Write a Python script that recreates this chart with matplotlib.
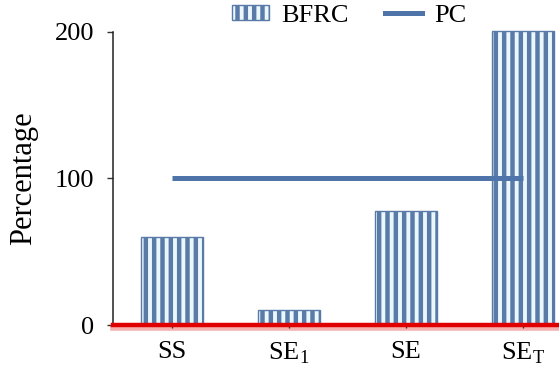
import matplotlib.pyplot as plt
import matplotlib.transforms as mtransforms
from matplotlib.lines import Line2D
from matplotlib.patches import Patch

plt.rcParams["font.family"] = ["Liberation Serif", "DejaVu Serif"]
plt.rcParams["mathtext.fontset"] = "custom"
plt.rcParams["mathtext.rm"] = "Liberation Serif"
plt.rcParams["hatch.linewidth"] = 3.2

# data
categories = ["SS", r"SE$_\mathrm{1}$", "SE", r"SE$_\mathrm{T}$"]
bfrc = [60, 10, 78, 201]
pc = [100, 100, 100, 100]

bar_dark = "#5a7aa8"
bar_light = "#eaf8fd"
line_blue = "#4f74aa"

fig = plt.figure(figsize=(5.59, 3.70), dpi=100)
ax = fig.add_axes([0.2021, 0.1216, 0.798, 0.792])

x = list(range(len(categories)))
ax.bar(x, bfrc, width=0.53, color=bar_light, edgecolor=bar_dark,
       hatch="||", linewidth=1.0, clip_on=False, zorder=2)
ax.plot(x, pc, color=line_blue, linewidth=3.6, solid_capstyle="butt", zorder=3)

# red base line with a soft shadow below it
shadow = mtransforms.offset_copy(ax.transData, fig=fig, x=0, y=-2.5, units="points")
ax.plot([-0.5, 3.4], [0, 0], color="#f6b0b0", linewidth=4, transform=shadow,
        clip_on=False, zorder=1)
ax.axhline(0, color="#e00000", linewidth=3.2, zorder=4, clip_on=False)

ax.set_xlim(-0.504, 3.31)
ax.set_ylim(0, 200)
ax.set_yticks([0, 100, 200])
ax.set_xticks(x)
ax.set_xticklabels(categories)

for side in ["top", "right", "bottom"]:
    ax.spines[side].set_visible(False)
ax.spines["left"].set_color("#222222")
ax.spines["left"].set_linewidth(1.1)

ax.tick_params(axis="y", labelsize=19, length=4.5, width=1, color="#333333", pad=9)
ax.tick_params(axis="x", labelsize=19, length=2.5, width=1, color="#333333", pad=9)

ax.set_ylabel("Percentage", fontsize=22)
ax.yaxis.set_label_coords(-0.168, 0.5)

handles = [
    Patch(facecolor=bar_light, edgecolor=bar_dark, hatch="||", linewidth=1.0),
    Line2D([0], [0], color=line_blue, linewidth=3.6),
]
ax.legend(handles, ["BFRC", "PC"], loc="center", bbox_to_anchor=(0.53, 1.055),
          ncol=2, frameon=False, fontsize=19, handlelength=1.4, handleheight=0.5,
          handletextpad=0.45, columnspacing=1.4, borderaxespad=0)

fig.savefig("out.png", dpi=100)
